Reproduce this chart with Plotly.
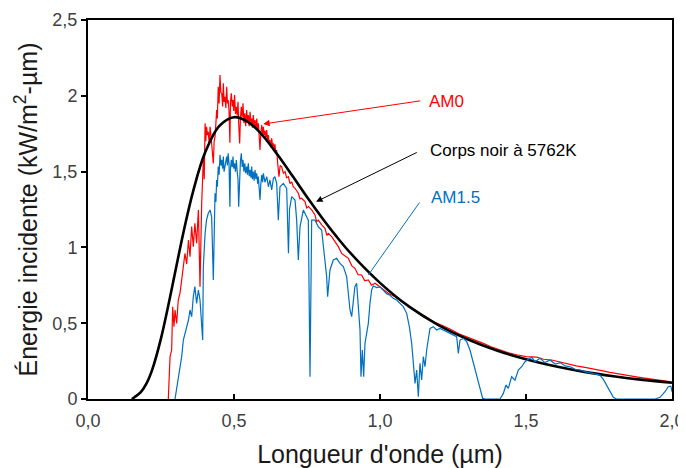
import plotly.graph_objects as go

# ---------------- data ----------------
# Black body at 5762 K (kW/m2-um)
bb_wl = [0.15, 0.16, 0.18, 0.20, 0.22, 0.25, 0.28, 0.30, 0.33, 0.36, 0.40, 0.45,
         0.50, 0.55, 0.60, 0.65, 0.70, 0.75, 0.80, 0.85, 0.90, 1.00, 1.10, 1.20,
         1.30, 1.40, 1.50, 1.60, 1.70, 1.80, 1.90, 2.00]
bb_val = [0.000, 0.013, 0.043, 0.101, 0.194, 0.400, 0.663, 0.851, 1.126, 1.370, 1.621, 1.802,
          1.859, 1.825, 1.734, 1.609, 1.472, 1.332, 1.199, 1.074, 0.960, 0.766, 0.609, 0.488,
          0.394, 0.320, 0.262, 0.216, 0.179, 0.150, 0.126, 0.107]

# AM0 spectrum
am0_wl = [0.275, 0.281, 0.2865, 0.290, 0.2945, 0.298, 0.3037, 0.309, 0.315, 0.3208, 0.3265,
          0.332, 0.338, 0.344, 0.3493, 0.355, 0.3607, 0.366, 0.372, 0.378, 0.3836, 0.3893,
          0.395, 0.398, 0.401, 0.4035, 0.406, 0.409, 0.412, 0.415, 0.418, 0.421, 0.424,
          0.4265, 0.4292, 0.432, 0.435, 0.438, 0.4406, 0.443, 0.446, 0.449, 0.452, 0.455,
          0.458, 0.461, 0.4635, 0.466, 0.469, 0.472, 0.475, 0.4775, 0.480, 0.483, 0.486,
          0.488, 0.4908, 0.494, 0.4966, 0.499, 0.502, 0.505, 0.508, 0.511, 0.5137, 0.5165,
          0.5194, 0.522, 0.525, 0.528, 0.5308, 0.534, 0.537, 0.540, 0.5434, 0.546, 0.549,
          0.552, 0.555, 0.558, 0.5605, 0.563, 0.566, 0.569, 0.572, 0.575, 0.578, 0.581,
          0.5834, 0.586, 0.589, 0.592, 0.595, 0.598, 0.6005, 0.603, 0.606, 0.609, 0.612,
          0.615, 0.618, 0.620, 0.623, 0.626, 0.629, 0.632, 0.635, 0.638, 0.6405, 0.643,
          0.6461, 0.6496, 0.654, 0.658, 0.6633, 0.669, 0.675, 0.680, 0.6861, 0.692, 0.6975,
          0.703, 0.709, 0.7203, 0.726, 0.7317, 0.743, 0.749, 0.755, 0.766, 0.7774, 0.783,
          0.7888, 0.8002, 0.8116, 0.818, 0.823, 0.8345, 0.846, 0.8573, 0.8687, 0.8801,
          0.8915, 0.903, 0.914, 0.925, 0.937, 0.948, 0.960, 0.971, 0.983, 1.0057, 1.0285,
          1.0514, 1.0742, 1.10, 1.1256, 1.155, 1.1826, 1.21, 1.2397, 1.27, 1.2968, 1.325,
          1.3539, 1.38, 1.411, 1.44, 1.468, 1.50, 1.5365, 1.56, 1.588, 1.615, 1.645, 1.672,
          1.702, 1.73, 1.759, 1.787, 1.816, 1.845, 1.873, 1.90, 1.930, 1.965, 1.998]
am0_val = [0.000, 0.280, 0.323, 0.609, 0.477, 0.587, 0.499, 0.653, 0.697, 0.807, 0.873,
           0.960, 0.890, 1.049, 0.939, 1.137, 1.005, 1.159, 1.027, 1.247, 0.740, 1.291,
           1.577, 1.450, 1.818, 1.700, 1.796, 1.740, 1.763, 1.680, 1.796, 1.740, 1.686,
           1.620, 1.554, 1.700, 1.730, 1.820, 1.906, 1.850, 2.060, 1.950, 2.137, 2.020,
           2.016, 1.930, 2.082, 1.960, 1.994, 1.920, 2.060, 1.950, 1.972, 1.900, 1.690,
           1.960, 2.016, 1.930, 1.972, 1.900, 2.005, 1.880, 1.928, 1.870, 1.960, 1.800,
           1.686, 1.850, 1.928, 1.860, 1.950, 1.820, 1.884, 1.800, 1.906, 1.830, 1.873,
           1.800, 1.895, 1.820, 1.850, 1.790, 1.873, 1.800, 1.840, 1.780, 1.850, 1.770,
           1.818, 1.740, 1.642, 1.760, 1.807, 1.750, 1.796, 1.740, 1.770, 1.720, 1.774,
           1.710, 1.740, 1.690, 1.708, 1.660, 1.720, 1.670, 1.686, 1.640, 1.680, 1.620,
           1.642, 1.555, 1.466, 1.540, 1.532, 1.490, 1.500, 1.460, 1.466, 1.420, 1.433,
           1.400, 1.390, 1.357, 1.320, 1.324, 1.302, 1.260, 1.269, 1.247, 1.214, 1.170,
           1.180, 1.148, 1.126, 1.080, 1.093, 1.071, 1.038, 1.005, 0.960, 0.945,
           0.928, 0.880, 0.862, 0.820, 0.818, 0.780, 0.785, 0.750, 0.763, 0.730, 0.697,
           0.675, 0.642, 0.612, 0.575, 0.545, 0.510, 0.488, 0.462, 0.430, 0.411, 0.392,
           0.367, 0.345, 0.323, 0.305, 0.292, 0.280, 0.276, 0.262, 0.257, 0.244, 0.231, 0.219,
           0.209, 0.196, 0.187, 0.176, 0.165, 0.157, 0.147, 0.139, 0.130, 0.122, 0.114]

# AM1.5 spectrum
am15_wl = [0.298, 0.309, 0.3208, 0.3265, 0.332, 0.338, 0.344, 0.3493, 0.355, 0.3607, 0.366,
           0.372, 0.378, 0.3836, 0.3893, 0.3927, 0.395, 0.401, 0.406, 0.412, 0.418, 0.4235,
           0.4292, 0.432, 0.435, 0.438, 0.4406, 0.443, 0.446, 0.449, 0.452, 0.455, 0.458,
           0.461, 0.4635, 0.466, 0.469, 0.472, 0.475, 0.4775, 0.480, 0.483, 0.486, 0.488,
           0.4908, 0.494, 0.4966, 0.499, 0.502, 0.505, 0.508, 0.511, 0.5137, 0.516, 0.5194,
           0.522, 0.525, 0.528, 0.5308, 0.534, 0.537, 0.540, 0.5434, 0.546, 0.549, 0.552,
           0.555, 0.558, 0.5605, 0.563, 0.566, 0.569, 0.572, 0.575, 0.578, 0.581, 0.5834,
           0.586, 0.589, 0.592, 0.595, 0.598, 0.6005, 0.606, 0.612, 0.618, 0.623, 0.629,
           0.635, 0.640, 0.6462, 0.6518, 0.6575, 0.669, 0.6804, 0.6865, 0.6900, 0.6975,
           0.709, 0.7146, 0.7203, 0.726, 0.7374, 0.7488, 0.7545, 0.7603, 0.766, 0.7774,
           0.7888, 0.8002, 0.8116, 0.8173, 0.8207, 0.8287, 0.840, 0.8516, 0.863, 0.8744,
           0.8858, 0.8973, 0.903, 0.9087, 0.914, 0.920, 0.9258, 0.9315, 0.9349, 0.9395,
           0.944, 0.9486, 0.9543, 0.960, 0.9657, 0.9714, 0.977, 0.9885, 0.9999, 1.0113,
           1.0227, 1.0342, 1.0456, 1.057, 1.0684, 1.0798, 1.0913, 1.1005, 1.1085, 1.1142,
           1.120, 1.1256, 1.1313, 1.137, 1.1427, 1.1484, 1.1541, 1.1598, 1.1655, 1.1712,
           1.1826, 1.194, 1.2055, 1.2169, 1.2283, 1.2397, 1.2511, 1.2626, 1.2683, 1.274,
           1.2854, 1.2968, 1.3082, 1.3173, 1.3253, 1.3333, 1.3425, 1.3516, 1.3596, 1.411,
           1.4224, 1.4315, 1.4395, 1.4509, 1.4623, 1.4737, 1.4852, 1.4966, 1.508, 1.5194,
           1.531, 1.548, 1.565, 1.582, 1.600, 1.617, 1.634, 1.651, 1.668, 1.685, 1.702,
           1.719, 1.736, 1.753, 1.765, 1.776, 1.788, 1.799, 1.810, 1.942, 1.959, 1.976,
           1.987, 1.996, 2.000]
am15_val = [0.000, 0.125, 0.280, 0.389, 0.433, 0.477, 0.521, 0.587, 0.543, 0.675, 0.741,
            0.631, 0.719, 0.653, 0.433, 0.389, 0.873, 1.093, 1.181, 1.225, 1.247, 1.200,
            0.785, 1.250, 1.357, 1.300, 1.445, 1.400, 1.533, 1.480, 1.610, 1.540, 1.577,
            1.520, 1.599, 1.500, 1.533, 1.560, 1.599, 1.540, 1.621, 1.550, 1.269, 1.520,
            1.577, 1.530, 1.599, 1.520, 1.555, 1.500, 1.577, 1.500, 1.450, 1.269, 1.511,
            1.570, 1.621, 1.530, 1.577, 1.500, 1.555, 1.490, 1.533, 1.480, 1.555, 1.470,
            1.511, 1.460, 1.533, 1.450, 1.500, 1.440, 1.511, 1.450, 1.489, 1.420, 1.467,
            1.400, 1.313, 1.420, 1.478, 1.430, 1.489, 1.430, 1.467, 1.400, 1.445, 1.380,
            1.456, 1.466, 1.422, 1.180, 1.400, 1.422, 1.389, 0.961, 1.250, 1.335,
            1.313, 1.180, 0.917, 1.136, 1.246, 1.202, 1.180, 0.147, 1.180, 1.180,
            1.136, 1.114, 0.873, 0.807, 0.675, 0.851, 0.917, 0.928, 0.895, 0.873,
            0.807, 0.587, 0.543, 0.653, 0.741, 0.763, 0.587, 0.455, 0.147, 0.323,
            0.147, 0.367, 0.433, 0.499, 0.631, 0.719, 0.745, 0.735, 0.740, 0.715,
            0.695, 0.684, 0.664, 0.653, 0.631, 0.609, 0.565, 0.477, 0.367, 0.257,
            0.103, 0.191, 0.015, 0.235, 0.125, 0.279, 0.213, 0.323, 0.411, 0.466,
            0.477, 0.455, 0.466, 0.455, 0.444, 0.433, 0.422, 0.411, 0.301, 0.389,
            0.400, 0.378, 0.323, 0.257, 0.191, 0.125, 0.059, 0.004, 0.000, 0.000,
            0.037, 0.092, 0.070, 0.147, 0.125, 0.191, 0.213, 0.246, 0.262, 0.275,
            0.246, 0.268, 0.240, 0.257, 0.231, 0.240, 0.218, 0.213, 0.196, 0.191, 0.180,
            0.174, 0.169, 0.158, 0.129, 0.092, 0.048, 0.011, 0.000, 0.000, 0.011, 0.048,
            0.081, 0.085, 0.048]

x_ticks = [0.0, 0.5, 1.0, 1.5, 2.0]
x_tick_text = ["0,0", "0,5", "1,0", "1,5", "2,0"]
y_ticks = [0.0, 0.5, 1.0, 1.5, 2.0, 2.5]
y_tick_text = ["0", "0,5", "1", "1,5", "2", "2,5"]

RED = "#FF0000"
BLUE = "#0070C0"
FONT = "Liberation Sans, Arial, sans-serif"

fig = go.Figure()
fig.add_trace(go.Scatter(x=am0_wl, y=am0_val, mode="lines", name="AM0",
                         line=dict(color=RED, width=1.2)))
fig.add_trace(go.Scatter(x=bb_wl, y=bb_val, mode="lines", name="Corps noir à 5762K",
                         line=dict(color="black", width=2.6, shape="spline", smoothing=1.0)))
fig.add_trace(go.Scatter(x=am15_wl, y=am15_val, mode="lines", name="AM1.5",
                         line=dict(color=BLUE, width=1.2)))

annotations = [
    # arrows (no text)
    dict(x=0.600, y=1.814, ax=1.143, ay=1.968, xref="x", yref="y", axref="x", ayref="y",
         text="", showarrow=True, arrowhead=2, arrowsize=1.3, arrowwidth=1, arrowcolor=RED),
    dict(x=0.781, y=1.301, ax=1.131, ay=1.631, xref="x", yref="y", axref="x", ayref="y",
         text="", showarrow=True, arrowhead=2, arrowsize=1.3, arrowwidth=1, arrowcolor="black"),
    dict(x=0.960, y=0.818, ax=1.139, ay=1.306, xref="x", yref="y", axref="x", ayref="y",
         text="", showarrow=True, arrowhead=0, arrowwidth=1, arrowcolor=BLUE),
    # labels
    dict(x=1.162, y=1.965, xref="x", yref="y", text="AM0", showarrow=False,
         xanchor="left", yanchor="middle", font=dict(family=FONT, size=17, color=RED)),
    dict(x=1.166, y=1.642, xref="x", yref="y", text="Corps noir à 5762K", showarrow=False,
         xanchor="left", yanchor="middle", font=dict(family=FONT, size=17, color="#000000")),
    dict(x=1.168, y=1.332, xref="x", yref="y", text="AM1.5", showarrow=False,
         xanchor="left", yanchor="middle", font=dict(family=FONT, size=17, color=BLUE)),
]

# the page adds an 8px body margin, so the figure is sized/margined to compensate
fig.update_layout(
    width=678, height=460,
    margin=dict(l=80, r=14, t=12, b=69, autoexpand=False),
    paper_bgcolor="white", plot_bgcolor="white",
    showlegend=False,
    font=dict(family=FONT, color="#404040"),
    annotations=annotations,
)
fig.update_xaxes(
    range=[0, 2.0], tickvals=x_ticks, ticktext=x_tick_text, automargin=False,
    showgrid=False, zeroline=False,
    showline=True, mirror=True, linecolor="black", linewidth=2,
    ticks="inside", ticklen=5, tickwidth=2, tickcolor="black", ticklabelstandoff=4,
    tickfont=dict(family=FONT, size=18, color="#404040"),
    title=dict(text="Longueur d'onde (µm)", font=dict(family=FONT, size=25, color="#1a1a1a"),
               standoff=16),
)
fig.update_yaxes(
    range=[0, 2.5], tickvals=y_ticks, ticktext=y_tick_text, automargin=False,
    showgrid=False, zeroline=False,
    showline=True, mirror=True, linecolor="black", linewidth=2,
    ticks="outside", ticklen=5, tickwidth=2, tickcolor="black",
    tickfont=dict(family=FONT, size=18, color="#404040"),
    title=dict(text="Énergie incidente (kW/m<sup>2</sup>-µm)",
               font=dict(family=FONT, size=25, color="#1a1a1a"), standoff=8),
)

fig.write_html("out.html")
